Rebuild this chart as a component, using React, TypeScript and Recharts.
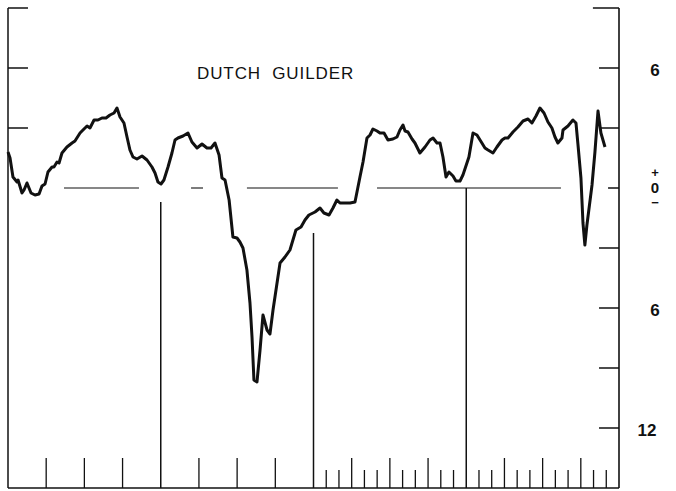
import React from "react";
import { LineChart, Line, XAxis, YAxis, ReferenceLine } from "recharts";

// months from start of period, % deviation
const months = [
  0, 0.16, 0.39, 0.71, 0.79, 1.1, 1.26, 1.49, 1.81, 2.12, 2.44, 2.67, 2.91, 3.14, 3.46, 3.61, 3.85, 4.01,
  4.24, 4.63, 5.03, 5.26, 5.66, 5.89, 6.21, 6.44, 6.76, 7.07, 7.38, 7.7, 8.01, 8.33, 8.56, 8.8, 9.11,
  9.35, 9.58, 9.82, 10.13, 10.53, 10.92, 11.31, 11.55, 11.78, 12.02, 12.25, 12.57, 12.88, 13.12, 13.35,
  13.75, 14.14, 14.45, 14.85, 15.24, 15.63, 15.95, 16.26, 16.58, 16.81, 17.05, 17.37, 17.67, 17.99,
  18.22, 18.46, 18.77, 19.01, 19.17, 19.32, 19.56, 19.8, 20.03, 20.35, 20.58, 20.82, 21.37, 21.76,
  22.15, 22.62, 23.02, 23.33, 23.64, 24.12, 24.51, 24.82, 25.22, 25.53, 25.84, 26.08, 26.47, 26.87,
  27.26, 27.65, 27.89, 28.2, 28.44, 28.67, 28.99, 29.22, 29.54, 29.85, 30.24, 30.56, 30.79, 31.03,
  31.19, 31.42, 31.74, 31.97, 32.36, 32.76, 33.15, 33.39, 33.7, 33.94, 34.17, 34.41, 34.64, 34.96,
  35.19, 35.51, 35.74, 36.21, 36.53, 36.84, 37.23, 37.47, 37.71, 38.1, 38.41, 38.81, 39.04, 39.28,
  39.67, 40.06, 40.46, 40.85, 41.16, 41.48, 41.79, 42.11, 42.42, 42.73, 42.97, 43.2, 43.52, 43.6,
  43.99, 44.38, 44.62, 44.78, 45.01, 45.17, 45.32, 45.48, 45.88, 46.11, 46.35, 46.58, 46.9,
];
const guilder = [
  1.8, 1.5, 0.55, 0.3, 0.4, -0.25, -0.1, 0.25, -0.25, -0.35, -0.3, 0.1, 0.2, 0.8, 1.05, 1.05, 1.3, 1.25,
  1.75, 2.05, 2.25, 2.35, 2.75, 2.9, 3.1, 3.0, 3.4, 3.4, 3.5, 3.5, 3.65, 3.75, 4.0, 3.55, 3.25,
  2.55, 1.9, 1.55, 1.45, 1.6, 1.4, 1.05, 0.75, 0.3, 0.2, 0.4, 1.05, 1.75, 2.4, 2.5,
  2.6, 2.75, 2.3, 2.0, 2.2, 2.0, 2.0, 2.25, 1.65, 0.5, 0.4, -0.6, -2.45, -2.5,
  -2.7, -3.0, -4.1, -5.75, -7.45, -9.6, -9.7, -8.1, -6.35, -7.1, -7.3, -6.1, -3.75, -3.45,
  -3.1, -2.1, -1.95, -1.6, -1.35, -1.2, -1.0, -1.25, -1.35, -1.0, -0.6, -0.75, -0.75, -0.75,
  -0.7, 0.55, 1.3, 2.5, 2.65, 2.95, 2.85, 2.75, 2.75, 2.4, 2.45, 2.55, 2.9, 3.15,
  2.85, 2.8, 2.45, 2.25, 1.75, 2.05, 2.4, 2.5, 2.25, 2.25, 1.55, 0.55, 0.8, 0.6,
  0.35, 0.35, 0.65, 1.55, 2.75, 2.65, 2.25, 2.0, 1.9, 1.75, 2.05, 2.4, 2.5, 2.5,
  2.8, 3.05, 3.35, 3.45, 3.25, 3.6, 4.0, 3.75, 3.3, 3.0, 2.55, 2.25, 2.5, 2.9,
  3.1, 3.4, 3.25, 2.15, 0.5, -1.75, -2.85, -1.85, 0.15, 1.8, 3.85, 2.75, 2.05,
];

const rightTickValues = [6, 0, -6, -12];
const rightTickLabels = ["6", "0", "6", "12"];
const rightMarks = [9, 6, 3, 0, -3, -6, -9, -12];
const leftMarks = [9, 6, 3];
const yearLines = [12, 24, 36];
const yearLineTops = [-0.7, -2.25, 0];
const quarterTicks = [3, 6, 9, 15, 18, 21, 27, 30, 33, 39, 42, 45];
const monthTicks = [25, 26, 28, 29, 31, 32, 34, 35, 37, 38, 40, 41, 43, 44, 46, 47];
const zeroDashes = [
  [4.4, 10.29],
  [14.38, 15.32],
  [18.77, 25.92],
  [28.99, 43.44],
];

const data = months.map((m, i) => ({ m, v: guilder[i] }));

const ink = "#111";
const font = "'Liberation Sans', Arial, sans-serif";

function RightTick(props: any) {
  const { y, payload } = props;
  const i = rightTickValues.indexOf(payload.value);
  const label = rightTickLabels[i];
  if (payload.value === 0) {
    return (
      <g fontFamily={font} fontWeight="bold" fill={ink} textAnchor="middle">
        <text x={655} y={y - 11} fontSize={13}>+</text>
        <text x={655} y={y + 5} fontSize={15}>0</text>
        <text x={655} y={y + 19} fontSize={13}>−</text>
      </g>
    );
  }
  return (
    <text
      x={label === "12" ? 647 : 655}
      y={y + 2}
      textAnchor="middle"
      dominantBaseline="central"
      fontFamily={font}
      fontSize={17}
      fontWeight="bold"
      fill={ink}
    >
      {label}
    </text>
  );
}

export default function App() {
  const thin = { stroke: ink, strokeWidth: 1.5 };
  return (
    <div style={{ position: "absolute", left: 0, top: 0, background: "#fff" }}>
      <LineChart
        width={676}
        height={491}
        data={data}
        margin={{ top: 8, right: 0, left: 8, bottom: 3 }}
      >
        <XAxis dataKey="m" type="number" domain={[0, 48]} hide />
        <YAxis
          orientation="right"
          type="number"
          domain={[-15, 9]}
          width={57}
          ticks={rightTickValues}
          tickLine={false}
          axisLine={{ stroke: ink, strokeWidth: 1.6 }}
          tick={<RightTick />}
          interval={0}
        />
        {/* frame: left and bottom */}
        <ReferenceLine segment={[{ x: 0, y: -15 }, { x: 0, y: 9 }]} {...thin} ifOverflow="visible" />
        <ReferenceLine segment={[{ x: 0, y: -15 }, { x: 48, y: -15 }]} {...thin} ifOverflow="visible" />
        {leftMarks.map((v) => (
          <ReferenceLine key={"l" + v} segment={[{ x: 0, y: v }, { x: 1.57, y: v }]} {...thin} />
        ))}
        {rightMarks.map((v) => (
          <ReferenceLine
            key={"r" + v}
            segment={[{ x: v === 9 ? 45.95 : v === 0 ? 47.14 : 46.43, y: v }, { x: 48, y: v }]}
            {...thin}
          />
        ))}
        {zeroDashes.map(([a, b]) => (
          <ReferenceLine key={"z" + a} segment={[{ x: a, y: 0 }, { x: b, y: 0 }]} stroke={ink} strokeWidth={1.1} />
        ))}
        {yearLines.map((m, i) => (
          <ReferenceLine key={"y" + m} segment={[{ x: m, y: yearLineTops[i] }, { x: m, y: -15 }]} {...thin} />
        ))}
        {quarterTicks.map((m) => (
          <ReferenceLine key={"q" + m} segment={[{ x: m, y: -15 }, { x: m, y: -13.5 }]} stroke={ink} strokeWidth={1.3} />
        ))}
        {monthTicks.map((m) => (
          <ReferenceLine key={"mt" + m} segment={[{ x: m, y: -15 }, { x: m, y: -14.1 }]} stroke={ink} strokeWidth={1.3} />
        ))}
        <Line
          type="linear"
          dataKey="v"
          stroke={ink}
          strokeWidth={3}
          strokeLinejoin="round"
          dot={false}
          isAnimationActive={false}
        />
      </LineChart>
      <div
        style={{
          position: "absolute",
          left: 197,
          top: 64,
          fontFamily: font,
          fontSize: 17,
          letterSpacing: 0.9,
          color: ink,
          whiteSpace: "pre",
        }}
      >
        DUTCH  GUILDER
      </div>
    </div>
  );
}
